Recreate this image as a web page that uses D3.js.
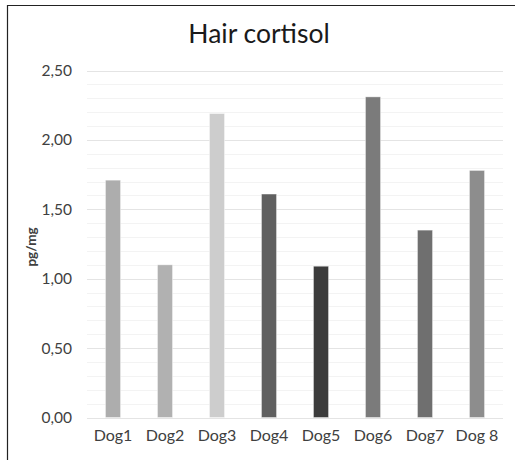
<!DOCTYPE html>
<html><head><meta charset="utf-8">
<script src="https://cdn.jsdelivr.net/npm/d3@7"></script>
<style>body{margin:0;background:#fff}svg{display:block}</style>
</head><body>
<svg id="c" width="515" height="460"></svg>
<script>
const categories = ["Dog1","Dog2","Dog3","Dog4","Dog5","Dog6","Dog7","Dog 8"];
const values = [1.71, 1.10, 2.19, 1.61, 1.09, 2.31, 1.35, 1.78];
const barColors = ["#adadad","#b1b1b1","#cdcdcd","#606060","#3c3c3c","#7b7b7b","#6f6f6f","#8d8d8d"];
const majorTicks = [0, 0.5, 1.0, 1.5, 2.0, 2.5];
const minorTicks = d3.range(0, 2.501, 0.1);
const title = "Hair cortisol";
const yTitle = "pg/mg";

const svg = d3.select("#c");
const font = "Lato, 'Open Sans', sans-serif";
const m = {l: 87, r: 503, t: 70.5, b: 417.5};
const x = d3.scaleBand().domain(categories).range([m.l, m.r]).paddingInner(0.71).paddingOuter(0.355);
const y = d3.scaleLinear().domain([0, 2.5]).range([m.b, m.t]);

// frame
svg.append("line").attr("x1",7.5).attr("x2",515).attr("y1",5.5).attr("y2",5.5).attr("stroke","#222").attr("stroke-width",1.2);
svg.append("line").attr("x1",7.5).attr("x2",7.5).attr("y1",5).attr("y2",460).attr("stroke","#222").attr("stroke-width",1.2);

// minor grid
svg.append("g").selectAll("line").data(minorTicks).join("line")
  .attr("x1",m.l).attr("x2",m.r)
  .attr("y1",d=>Math.round(y(d))+0.5).attr("y2",d=>Math.round(y(d))+0.5)
  .attr("stroke","#f3f3f3").attr("stroke-width",1);
// major grid
svg.append("g").selectAll("line").data(majorTicks).join("line")
  .attr("x1",m.l).attr("x2",m.r)
  .attr("y1",d=>Math.round(y(d))+0.5).attr("y2",d=>Math.round(y(d))+0.5)
  .attr("stroke","#e4e4e4").attr("stroke-width",1);

// y axis labels
const yAxis = d3.axisLeft(y).tickValues(majorTicks).tickSize(0).tickPadding(0)
  .tickFormat(d => d3.format(".2f")(d).replace(".", ","));
const ga = svg.append("g").attr("transform",`translate(${72},0)`).call(yAxis);
ga.select(".domain").remove();
ga.selectAll("text").attr("font-family",font).attr("font-size",15.5).attr("fill","#404040");

// bars
svg.append("g").selectAll("rect").data(values).join("rect")
  .attr("x",(d,i)=>x(categories[i]))
  .attr("width",x.bandwidth())
  .attr("y",d=>y(d))
  .attr("height",d=>y(0)-y(d))
  .attr("fill",(d,i)=>barColors[i])
  .attr("stroke","#ffffff").attr("stroke-opacity",0.5).attr("stroke-width",0.8);

// x axis labels
const xAxis = d3.axisBottom(x).tickSize(0).tickPadding(0);
const gx = svg.append("g").attr("transform",`translate(0,${430})`).call(xAxis);
gx.select(".domain").remove();
gx.selectAll("text").attr("font-family",font).attr("font-size",16).attr("fill","#404040");

// title
svg.append("text").attr("x",259).attr("y",43).attr("text-anchor","middle")
  .attr("font-family",font).attr("font-size",26.5).attr("fill","#1a1a1a").text(title);

// y title
svg.append("text").attr("transform",`translate(36,247) rotate(-90)`).attr("text-anchor","middle")
  .attr("font-family",font).attr("font-size",13.5).attr("font-weight","bold").attr("fill","#404040").text(yTitle);
</script>
</body></html>
